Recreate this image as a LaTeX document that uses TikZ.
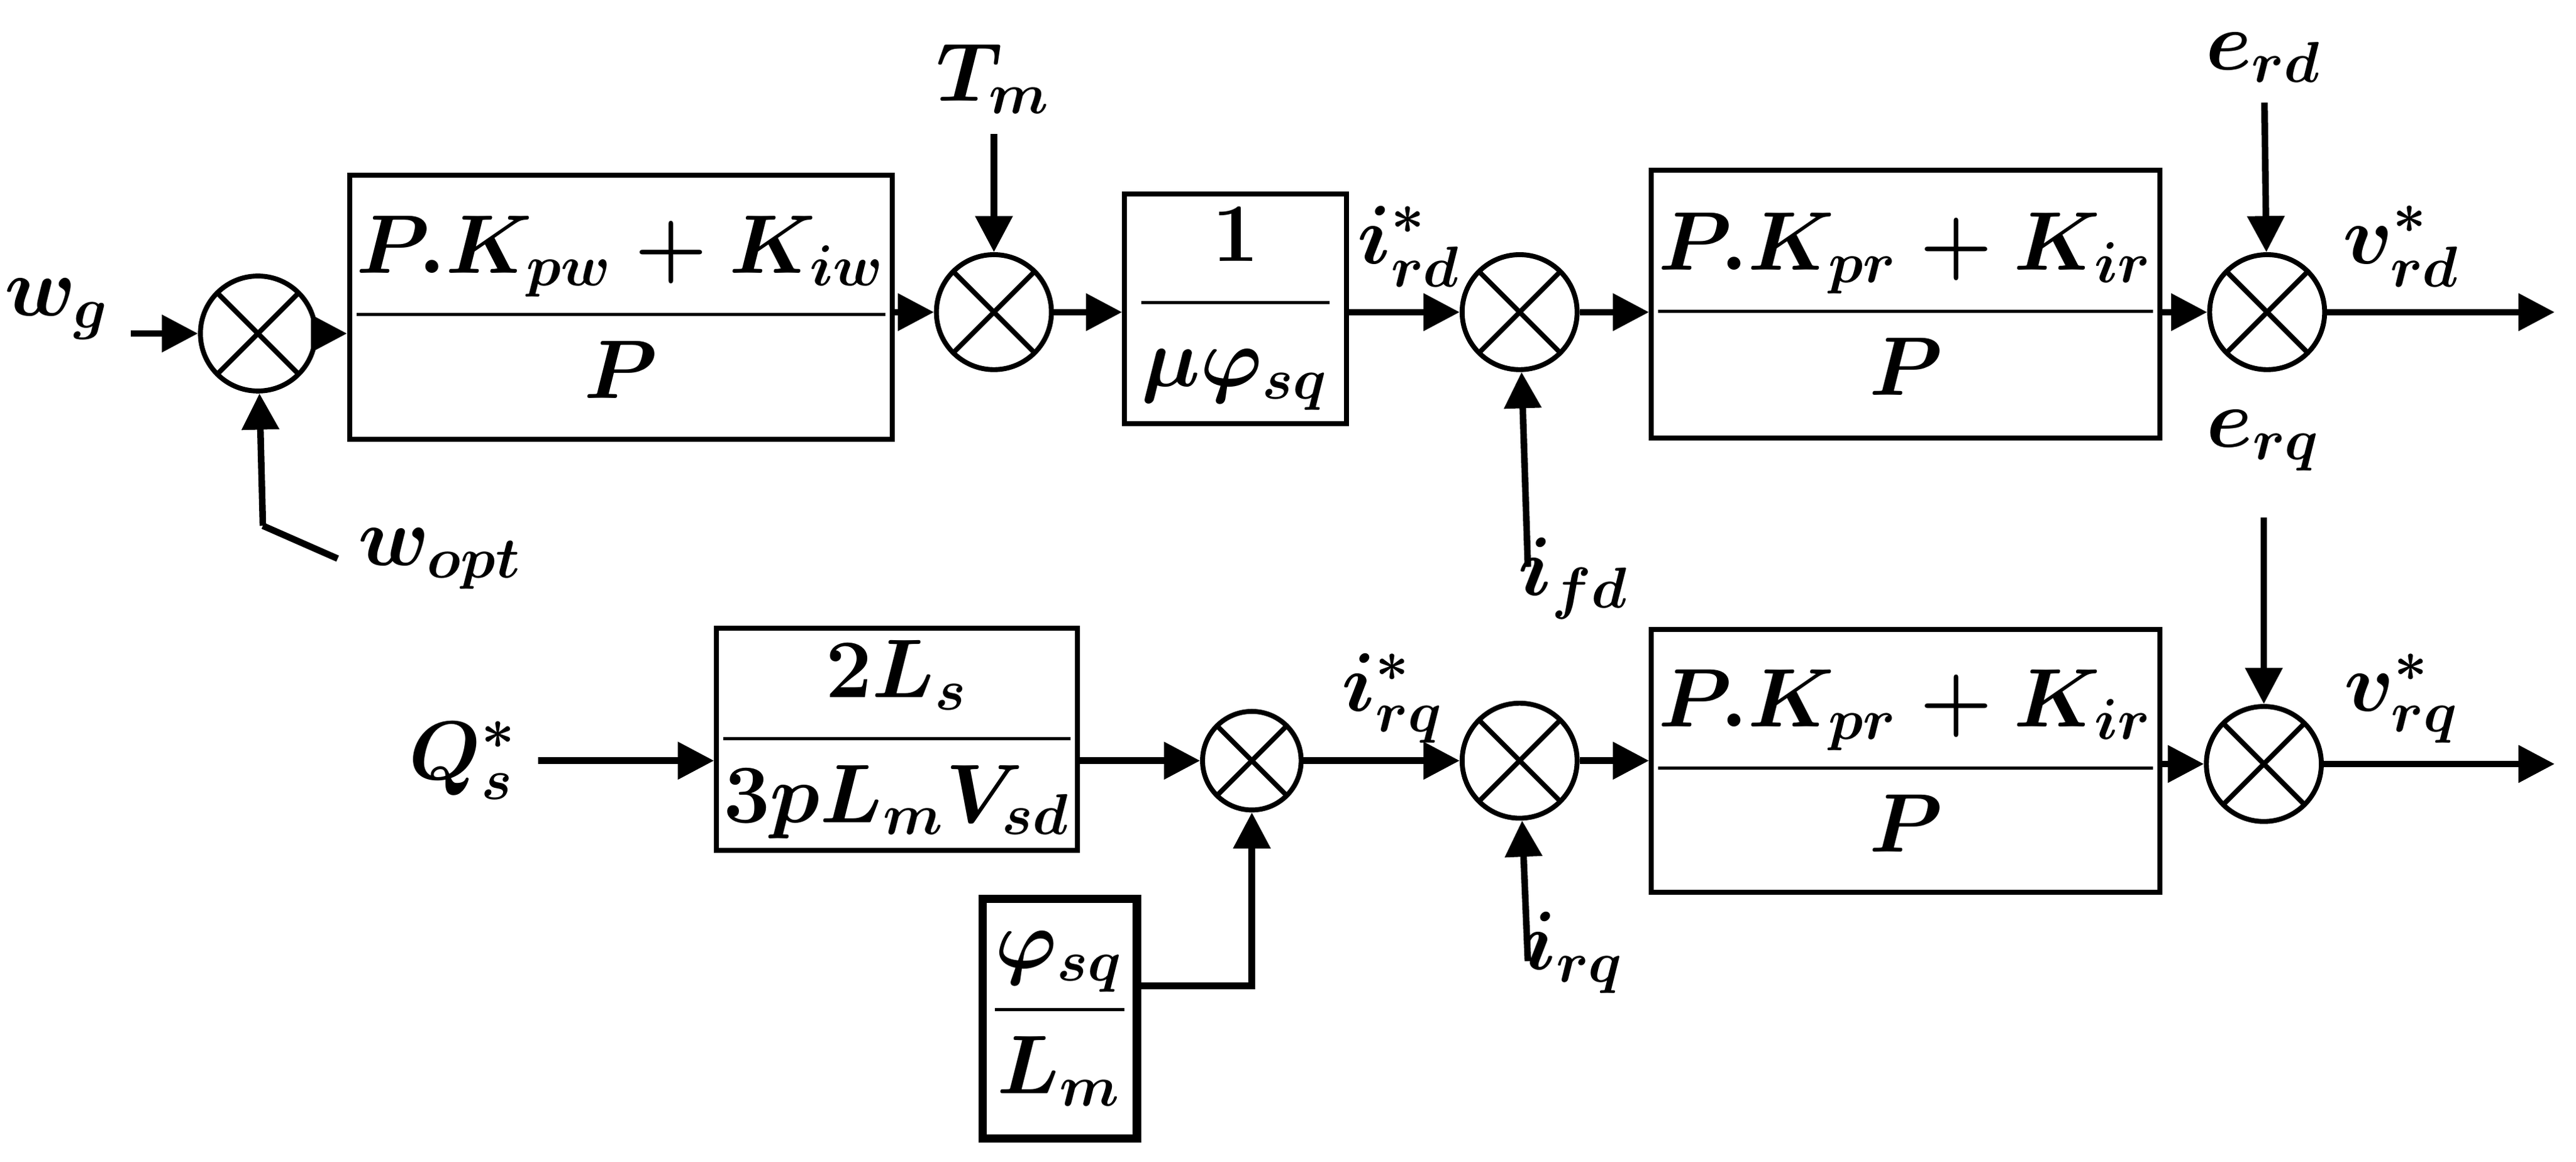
\documentclass[tikz,border=0pt]{standalone}
\usepackage{amsmath,bm}
\usetikzlibrary{arrows.meta, positioning, calc}
\newcommand{\bmath}[1]{$\boldsymbol{#1}$}
\begin{document}
\begin{tikzpicture}[x=0.1mm, y=-0.1mm,
    block/.style={draw, line width=0.3mm, inner sep=0pt, align=center, font=\Large},
    sumnode/.style={draw, circle, line width=0.3mm, minimum size=7mm, inner sep=0pt,
        path picture={\draw[line width=0.3mm] (path picture bounding box.north west) -- (path picture bounding box.south east)
        (path picture bounding box.north east) -- (path picture bounding box.south west);}},
    sig/.style={font=\Large},
    arrow/.style={line width=0.4mm, -{Triangle[length=2.2mm, width=2.2mm]}},
    wire/.style={line width=0.4mm}
]
    \useasboundingbox (0,0) rectangle (1568,707);
    % upper row
    \node[sig] (wg) at (35,188) {\bmath{w_g}};
    \node[sumnode] (s1) at (157,203) {};
    \node[block, minimum width=26.7mm, minimum height=16.1mm] (c1) at (378,187) {\bmath{\dfrac{P.K_{pw}+K_{iw}}{P}}};
    \node[sumnode] (s2) at (605,190) {};
    \node[sig] (tm) at (605,48) {\bmath{T_m}};
    \node[block, minimum width=13.5mm, minimum height=14mm] (c2) at (752,188) {\bmath{\dfrac{1}{\mu\varphi_{sq}}}};
    \node[sumnode] (s3) at (925,190) {};
    \node[block, minimum width=29.5mm, minimum height=16.3mm] (c3) at (1160,185) {\bmath{\dfrac{P.K_{pr}+K_{ir}}{P}}};
    \node[sumnode] (s4) at (1380,190) {};
    \node[sig] (erd) at (1378,35) {\bmath{e_{rd}}};
    \coordinate (vrdend) at (1555,190);
    \node[sig] at (1462,150) {\bmath{v^*_{rd}}};
    \node[sig] at (858,150) {\bmath{i^*_{rd}}};
    \node[sig] (wopt) at (268,340) {\bmath{w_{opt}}};
    \coordinate (wcorner) at (160,320);
    \node[sig] (ifd) at (958,352) {\bmath{i_{fd}}};
    \coordinate (ifdstart) at (930,345);
    % lower row
    \node[sig] (qs) at (282,463) {\bmath{Q^*_s}};
    \node[block, minimum width=21.2mm, minimum height=13.5mm] (c4) at (546,450) {\bmath{\dfrac{2L_s}{3pL_mV_{sd}}}};
    \node[sumnode, minimum size=6mm] (s6) at (762,463) {};
    \node[block, line width=0.5mm, minimum width=9.4mm, minimum height=14.6mm] (c5) at (645,620) {\bmath{\dfrac{\varphi_{sq}}{L_m}}};
    \node[sumnode] (s7) at (925,463) {};
    \node[sig] at (848,425) {\bmath{i^*_{rq}}};
    \node[sig] (irq) at (958,580) {\bmath{i_{rq}}};
    \coordinate (irqstart) at (930,585);
    \node[block, minimum width=29.5mm, minimum height=16mm] (c6) at (1160,463) {\bmath{\dfrac{P.K_{pr}+K_{ir}}{P}}};
    \node[sumnode] (s5) at (1378,465) {};
    \node[sig] (erq) at (1378,268) {\bmath{e_{rq}}};
    \coordinate (erqstart) at (1378,315);
    \coordinate (vrqend) at (1555,465);
    \node[sig] at (1462,425) {\bmath{v^*_{rq}}};

    \draw[arrow] (wg.east |- s1) -- (s1);
    \draw[arrow] (s1) -- (c1.west |- s1);
    \draw[wire] (wopt.west) -- (wcorner);
    \draw[arrow] (wcorner) -- (s1);
    \draw[arrow] (c1.east |- s2) -- (s2);
    \draw[arrow] (tm) -- (s2);
    \draw[arrow] (s2) -- (c2.west |- s2);
    \draw[arrow] (c2.east |- s3) -- (s3);
    \draw[arrow] (ifdstart) -- (s3);
    \draw[arrow] (s3) -- (c3.west |- s3);
    \draw[arrow] (c3.east |- s4) -- (s4);
    \draw[arrow] (erd) -- (s4);
    \draw[arrow] (s4) -- (vrdend);

    \draw[arrow] (qs) -- (c4.west |- qs);
    \draw[arrow] (c4.east |- s6) -- (s6);
    \draw[arrow] (c5.east |- 0,600) -| (s6);
    \draw[arrow] (s6) -- (s7);
    \draw[arrow] (irqstart) -- (s7);
    \draw[arrow] (s7) -- (c6.west |- s7);
    \draw[arrow] (c6.east |- s5) -- (s5);
    \draw[arrow] (erqstart) -- (s5);
    \draw[arrow] (s5) -- (vrqend);
\end{tikzpicture}
\end{document}
